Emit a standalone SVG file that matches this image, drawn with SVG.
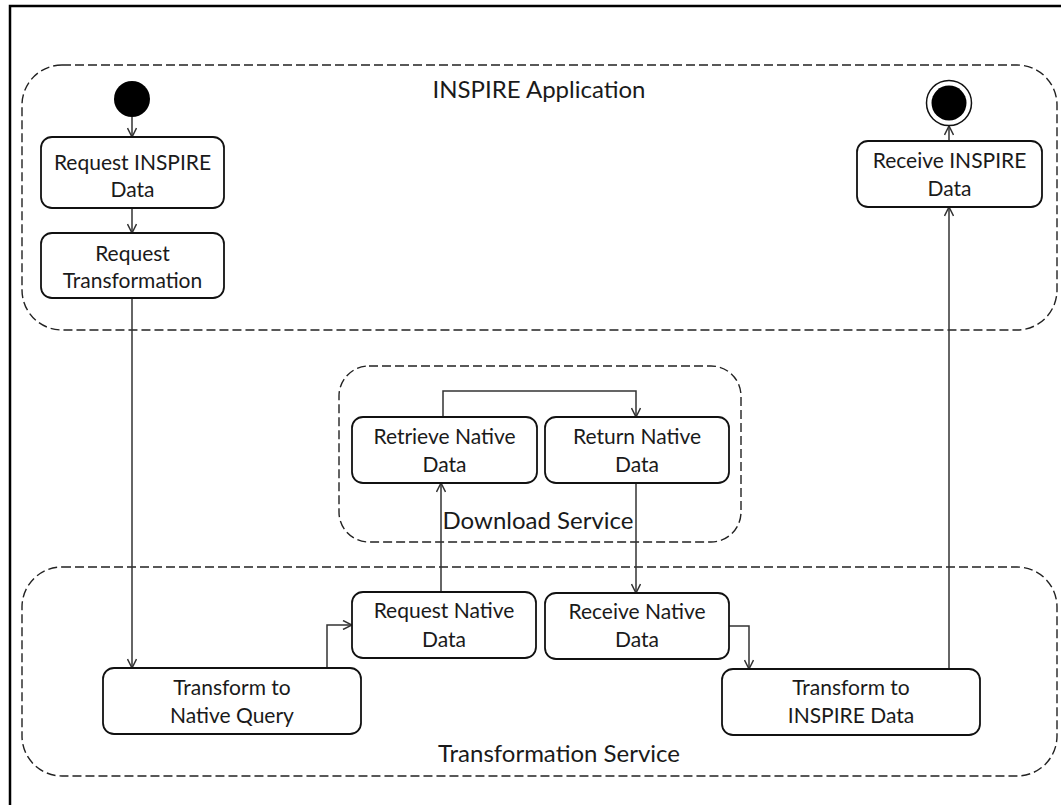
<svg xmlns="http://www.w3.org/2000/svg" width="1061" height="805" viewBox="0 0 1061 805">
<style>
.frame{fill:none;stroke:#000;stroke-width:2.5}
.cont{fill:none;stroke:#222;stroke-width:1.4;stroke-dasharray:9 4}
.box{fill:#fff;stroke:#111;stroke-width:1.8}
.t{font-family:Lato,"Liberation Sans",sans-serif;font-size:21px;fill:#1a1a1a;text-anchor:middle}
.ct{font-family:Lato,"Liberation Sans",sans-serif;font-size:24px;fill:#1a1a1a;text-anchor:middle}
.edge{fill:none;stroke:#333;stroke-width:1.5}
</style>
<defs>
<marker id="arr" viewBox="0 0 10 10" refX="10" refY="5" markerWidth="10" markerHeight="10" markerUnits="userSpaceOnUse" orient="auto">
<path d="M1,0.5 L10,5 L1,9.5" fill="none" stroke="#333" stroke-width="1.5"/>
</marker>
</defs>
<rect width="1061" height="805" fill="#fff"/>
<rect class="frame" x="10" y="6" width="1100" height="900"/>

<g id="inspire-application">
<rect class="cont" x="22" y="65" width="1035" height="265" rx="40" ry="40"/>
<text class="ct" x="539" y="98">INSPIRE Application</text>
</g>
<g id="download-service">
<rect class="cont" x="339" y="366" width="402" height="176" rx="30" ry="30"/>
<text class="ct" x="538" y="529">Download Service</text>
</g>
<g id="transformation-service">
<rect class="cont" x="22" y="567" width="1035" height="209" rx="40" ry="40"/>
<text class="ct" x="559" y="762">Transformation Service</text>
</g>

<g id="connectors">
<line class="edge" x1="132" y1="117" x2="132" y2="137" marker-end="url(#arr)"/>
<line class="edge" x1="132" y1="208" x2="132" y2="233" marker-end="url(#arr)"/>
<line class="edge" x1="132" y1="298" x2="132" y2="668" marker-end="url(#arr)"/>
<polyline class="edge" points="327,668 327,625 352,625" marker-end="url(#arr)"/>
<line class="edge" x1="441" y1="592" x2="441" y2="483" marker-end="url(#arr)"/>
<polyline class="edge" points="443,417 443,391 636,391 636,417" marker-end="url(#arr)"/>
<line class="edge" x1="636" y1="483" x2="636" y2="593" marker-end="url(#arr)"/>
<polyline class="edge" points="729,626 749,626 749,669" marker-end="url(#arr)"/>
<line class="edge" x1="949" y1="669" x2="949" y2="207" marker-end="url(#arr)"/>
<line class="edge" x1="949" y1="141" x2="949" y2="126" marker-end="url(#arr)"/>
</g>

<g id="start">
<circle cx="132" cy="99" r="18" fill="#000"/>
</g>
<g id="end">
<circle cx="949" cy="103" r="22.5" fill="#fff" stroke="#111" stroke-width="1.5"/>
<circle cx="949" cy="103" r="17.5" fill="#000"/>
</g>

<g id="request-inspire-data">
<rect class="box" x="41" y="137" width="183" height="71" rx="11"/>
<text class="t" x="132.5" y="170">Request INSPIRE</text>
<text class="t" x="132.5" y="197">Data</text>
</g>
<g id="request-transformation">
<rect class="box" x="41" y="233" width="183" height="65" rx="11"/>
<text class="t" x="132.5" y="261">Request</text>
<text class="t" x="132.5" y="288">Transformation</text>
</g>
<g id="receive-inspire-data">
<rect class="box" x="857" y="141" width="185" height="66" rx="11"/>
<text class="t" x="949.5" y="168">Receive INSPIRE</text>
<text class="t" x="949.5" y="196">Data</text>
</g>
<g id="retrieve-native-data">
<rect class="box" x="352" y="417" width="185" height="66" rx="11"/>
<text class="t" x="444.5" y="444">Retrieve Native</text>
<text class="t" x="444.5" y="472">Data</text>
</g>
<g id="return-native-data">
<rect class="box" x="545" y="417" width="184" height="66" rx="11"/>
<text class="t" x="637" y="444">Return Native</text>
<text class="t" x="637" y="472">Data</text>
</g>
<g id="request-native-data">
<rect class="box" x="352" y="592" width="184" height="66" rx="11"/>
<text class="t" x="444" y="618">Request Native</text>
<text class="t" x="444" y="647">Data</text>
</g>
<g id="receive-native-data">
<rect class="box" x="545" y="593" width="184" height="66" rx="11"/>
<text class="t" x="637" y="619">Receive Native</text>
<text class="t" x="637" y="647">Data</text>
</g>
<g id="transform-to-native-query">
<rect class="box" x="103" y="668" width="258" height="66" rx="11"/>
<text class="t" x="232" y="695">Transform to</text>
<text class="t" x="232" y="723">Native Query</text>
</g>
<g id="transform-to-inspire-data">
<rect class="box" x="722" y="669" width="258" height="66" rx="11"/>
<text class="t" x="851" y="695">Transform to</text>
<text class="t" x="851" y="723">INSPIRE Data</text>
</g>
</svg>
